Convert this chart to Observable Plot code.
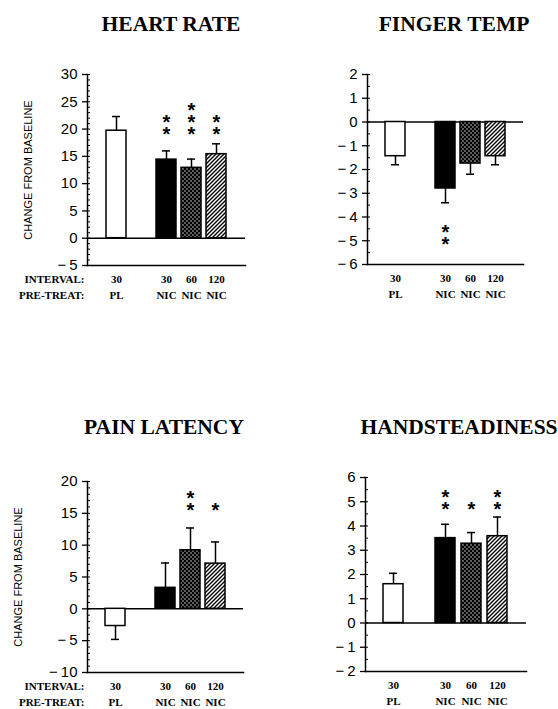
<!DOCTYPE html>
<html><head><meta charset="utf-8">
<script src="https://cdn.jsdelivr.net/npm/d3@7"></script>
<script src="https://cdn.jsdelivr.net/npm/@observablehq/plot@0.6"></script>
<style>
body{margin:0;background:#fff;}
#chart{position:relative;width:558px;height:709px;overflow:hidden;background:#fff;}
.title{position:absolute;font-family:"Liberation Serif",serif;font-weight:bold;font-size:21.5px;line-height:21px;white-space:nowrap;transform:translateX(-50%);color:#000;}
.panel{position:absolute;}
</style></head>
<body>
<svg width="0" height="0" style="position:absolute">
<defs>
<pattern id="dots" width="4" height="4" patternUnits="userSpaceOnUse">
<rect width="4" height="4" fill="black"/>
<circle cx="1" cy="1" r="0.7" fill="white"/>
<circle cx="3" cy="3" r="0.7" fill="white"/>
</pattern>
<pattern id="hatch" width="4" height="4" patternUnits="userSpaceOnUse">
<rect width="4" height="4" fill="white"/>
<path d="M-1,1 l2,-2 M0,4 l4,-4 M3,5 l2,-2" stroke="black" stroke-width="1.4"/>
</pattern>
</defs></svg>
<div id="chart"></div>
<script>
// ---- data ----
const slots = ["PL30", "gap", "NIC30", "NIC60", "NIC120"];
const barKeys = ["PL30", "NIC30", "NIC60", "NIC120"];
const intervals = ["30", "30", "60", "120"];
const pretreat = ["PL", "NIC", "NIC", "NIC"];

const heartRate = [19.7, 14.4, 12.9, 15.4];
const heartRateErr = [22.3, 16.0, 14.5, 17.3];
const heartRateStars = [0, 2, 3, 2];
const heartRateStarAt = 19.8;

const fingerTemp = [-1.44, -2.8, -1.75, -1.44];
const fingerTempErr = [-1.8, -3.4, -2.2, -1.8];
const fingerTempStars = [0, 2, 0, 0];
const fingerTempStarAt = -4.95;

const painLatency = [-2.7, 3.3, 9.2, 7.1];
const painLatencyErr = [-4.8, 7.2, 12.7, 10.5];
const painLatencyStars = [0, 0, 2, 1];
const painLatencyStarAt = 16.2;

const handSteadiness = [1.6, 3.5, 3.27, 3.58];
const handSteadinessErr = [2.05, 4.07, 3.73, 4.37];
const handSteadinessStars = [0, 2, 1, 2];
const handSteadinessStarAt = 4.85;

const titles = ["HEART RATE", "FINGER TEMP", "PAIN LATENCY", "HANDSTEADINESS"];
const yLabel = "CHANGE FROM BASELINE";
const rowLabels = "INTERVAL:\nPRE-TREAT:";

// ---- rendering ----
const barFills = ["white", "black", "url(#dots)", "url(#hatch)"];
const fmt = d => d < 0 ? "\u2212\u2009" + Math.abs(d) : String(d);
const chart = document.getElementById("chart");

function makePanel(cfg) {
  const rows = barKeys.map((k, i) => ({
    key: k, value: cfg.values[i], err: cfg.errs[i], fill: barFills[i],
    label: intervals[i] + "\n" + pretreat[i], stars: cfg.stars[i]
  }));
  const starRows = rows.filter(d => d.stars > 0);
  const marks = [
    Plot.ruleY([0], {strokeWidth: 1.5}),
    Plot.ruleX(rows, {x: "key", y1: "value", y2: "err", strokeWidth: 1.5}),
    Plot.tickY(rows, {x: "key", y: "err", inset: 6, strokeWidth: 1.5}),
    Plot.barY(rows, {x: "key", y: "value", fill: "fill", stroke: "black", strokeWidth: 1.5}),
    Plot.frame({anchor: "left", strokeWidth: 1.5}),
    Plot.frame({anchor: "bottom", strokeWidth: 1.5}),
    Plot.axisY(cfg.major, {tickSize: 5, tickPadding: 5, fontSize: 15, fontFamily: "Liberation Sans", tickFormat: fmt, strokeWidth: 1.3, label: null}),
    Plot.axisY(cfg.minor, {tickSize: -3, tickFormat: () => "", strokeWidth: 1, label: null}),
    Plot.axisX(barKeys, {tickSize: 0, tickPadding: 6, fontSize: 11, fontWeight: "bold", fontFamily: "Liberation Serif", lineHeight: 1.45, label: null, tickFormat: k => rows.find(r => r.key === k).label}),
    Plot.text(starRows, {x: "key", y: () => cfg.starAt, text: d => Array(d.stars).fill("*").join("\n"), lineAnchor: "bottom", lineHeight: 0.6, fontSize: 20, fontWeight: "bold", fontFamily: "Liberation Sans", dy: 11})
  ];
  if (cfg.ylabel) marks.push(Plot.text([yLabel], {frameAnchor: "left", textAnchor: "middle", rotate: -90, dx: cfg.ylabelDx, fontSize: 11, fontFamily: "Liberation Sans"}));
  if (cfg.rowLabels) marks.push(Plot.text([rowLabels], {frameAnchor: "bottom-left", textAnchor: "end", lineAnchor: "top", dx: -3, dy: 6, lineHeight: 1.45, fontSize: 11, fontWeight: "bold", fontFamily: "Liberation Serif"}));
  const svg = Plot.plot({
    width: cfg.width, height: cfg.height,
    marginTop: cfg.m[0], marginRight: cfg.m[1], marginBottom: cfg.m[2], marginLeft: cfg.m[3],
    style: {fontFamily: "Liberation Sans", color: "black", background: "transparent"},
    x: {type: "band", domain: slots, paddingInner: 0.22, paddingOuter: 0.665, axis: null, label: null},
    y: {domain: cfg.domain, axis: null, label: null},
    color: {type: "identity"},
    marks
  });
  const div = document.createElement("div");
  div.className = "panel";
  div.style.left = cfg.left + "px";
  div.style.top = cfg.top + "px";
  div.appendChild(svg);
  chart.appendChild(div);
  const t = document.createElement("div");
  t.className = "title";
  t.textContent = cfg.title;
  t.style.left = cfg.titleX + "px";
  t.style.top = cfg.titleY + "px";
  chart.appendChild(t);
}

makePanel({title: titles[0], titleX: 171, titleY: 14, left: 0, top: 50, width: 279, height: 270, m: [24, 34, 55, 87],
  domain: [-5, 30], major: d3.range(-5, 31, 5), minor: d3.range(-5, 30.5, 1),
  values: heartRate, errs: heartRateErr, stars: heartRateStars, starAt: heartRateStarAt, ylabel: true, ylabelDx: -59, rowLabels: true});
makePanel({title: titles[1], titleX: 454, titleY: 14, left: 280, top: 50, width: 278, height: 270, m: [24, 35, 56, 87],
  domain: [-6, 2], major: d3.range(-6, 2.5, 1), minor: d3.range(-6, 2.1, 0.5),
  values: fingerTemp, errs: fingerTempErr, stars: fingerTempStars, starAt: fingerTempStarAt, ylabel: false, rowLabels: false});
makePanel({title: titles[2], titleX: 164, titleY: 417, left: 0, top: 450, width: 279, height: 259, m: [31, 36, 37, 87],
  domain: [-10, 20], major: d3.range(-10, 21, 5), minor: d3.range(-10, 20.5, 1),
  values: painLatency, errs: painLatencyErr, stars: painLatencyStars, starAt: painLatencyStarAt, ylabel: true, ylabelDx: -69, rowLabels: true});
makePanel({title: titles[3], titleX: 459, titleY: 417, left: 280, top: 450, width: 278, height: 259, m: [27, 32, 38, 85],
  domain: [-2, 6], major: d3.range(-2, 6.5, 1), minor: d3.range(-2, 6.1, 0.5),
  values: handSteadiness, errs: handSteadinessErr, stars: handSteadinessStars, starAt: handSteadinessStarAt, ylabel: false, rowLabels: false});
</script>
</body></html>
